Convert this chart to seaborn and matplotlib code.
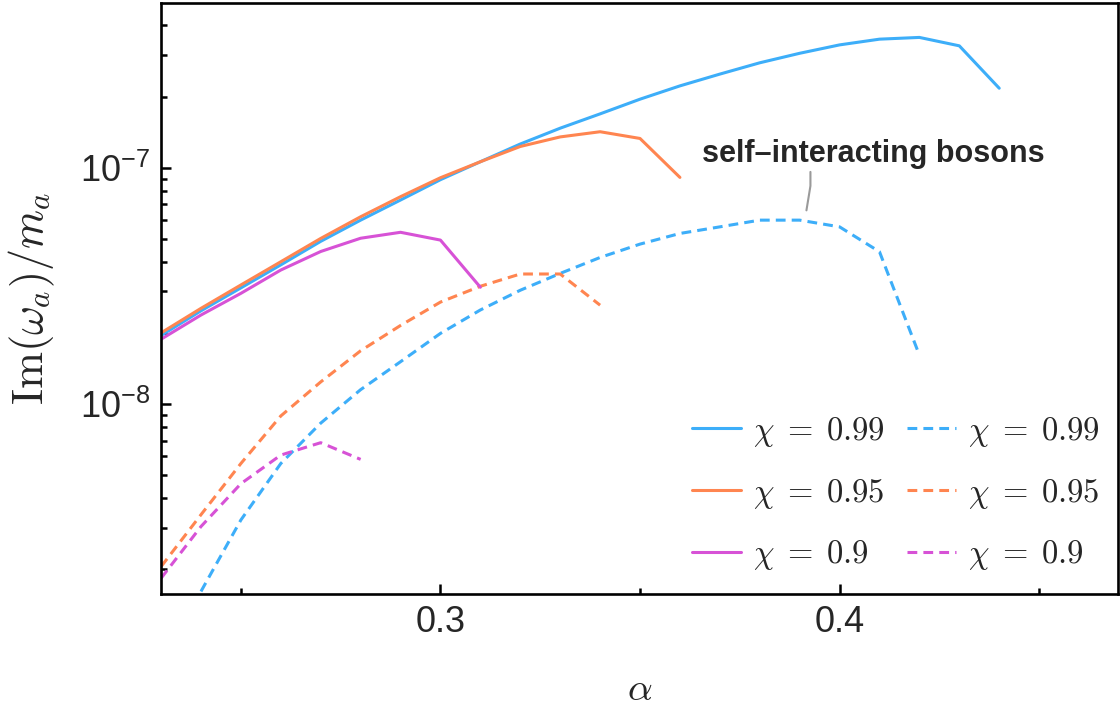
import numpy as np
import pandas as pd
import matplotlib
matplotlib.use("Agg")
import matplotlib.pyplot as plt
import matplotlib.ticker as mticker
from matplotlib.lines import Line2D
import seaborn as sns

# ---------------- data ----------------
alpha_s099 = [0.23, 0.24, 0.25, 0.26, 0.27, 0.28, 0.29, 0.30, 0.31, 0.32, 0.33,
              0.34, 0.35, 0.36, 0.37, 0.38, 0.39, 0.40, 0.41, 0.42, 0.43, 0.44]
im_s099 = [1.95e-8, 2.48e-8, 3.10e-8, 3.88e-8, 4.88e-8, 6.00e-8, 7.30e-8, 8.90e-8,
           1.06e-7, 1.26e-7, 1.47e-7, 1.69e-7, 1.95e-7, 2.22e-7, 2.49e-7, 2.78e-7,
           3.05e-7, 3.31e-7, 3.50e-7, 3.56e-7, 3.28e-7, 2.17e-7]

alpha_s095 = [0.23, 0.24, 0.25, 0.26, 0.27, 0.28, 0.29, 0.30, 0.31, 0.32, 0.33,
              0.34, 0.35, 0.36]
im_s095 = [2.00e-8, 2.54e-8, 3.19e-8, 4.00e-8, 5.02e-8, 6.20e-8, 7.54e-8, 9.07e-8,
           1.06e-7, 1.23e-7, 1.35e-7, 1.42e-7, 1.33e-7, 9.10e-8]

alpha_s090 = [0.23, 0.24, 0.25, 0.26, 0.27, 0.28, 0.29, 0.30, 0.31]
im_s090 = [1.88e-8, 2.38e-8, 2.94e-8, 3.69e-8, 4.42e-8, 5.03e-8, 5.33e-8, 4.94e-8,
           3.12e-8]

alpha_d099 = [0.24, 0.25, 0.26, 0.27, 0.28, 0.29, 0.30, 0.31, 0.32, 0.33, 0.34,
              0.35, 0.36, 0.37, 0.38, 0.39, 0.40, 0.41, 0.42]
im_d099 = [1.61e-9, 3.23e-9, 5.60e-9, 8.30e-9, 1.15e-8, 1.51e-8, 1.99e-8, 2.50e-8,
           3.03e-8, 3.57e-8, 4.17e-8, 4.75e-8, 5.27e-8, 5.62e-8, 6.00e-8, 6.00e-8,
           5.62e-8, 4.41e-8, 1.61e-8]

alpha_d095 = [0.23, 0.24, 0.25, 0.26, 0.27, 0.28, 0.29, 0.30, 0.31, 0.32, 0.33, 0.34]
im_d095 = [2.05e-9, 3.40e-9, 5.60e-9, 8.90e-9, 1.24e-8, 1.68e-8, 2.15e-8, 2.70e-8,
           3.15e-8, 3.55e-8, 3.55e-8, 2.62e-8]

alpha_d090 = [0.23, 0.24, 0.25, 0.26, 0.27, 0.28]
im_d090 = [1.83e-9, 3.03e-9, 4.60e-9, 6.08e-9, 6.86e-9, 5.83e-9]

labels = [r"$\chi\;=\;0.99$", r"$\chi\;=\;0.95$", r"$\chi\;=\;0.9$"]
colors = ["#3DAEF9", "#FF8550", "#D752D6"]

annot_text = "self\u2013interacting bosons"
annot_text_xy = (0.4085, 1.06e-7)
annot_line_start = (0.3927, 9.6e-8)
annot_line_end = (0.3917, 6.6e-8)

# ---------------- style ----------------
sns.set_style("white")
plt.rcParams["font.family"] = ["Liberation Sans", "DejaVu Sans"]
plt.rcParams["mathtext.fontset"] = "cm"

fig = plt.figure(figsize=(11.2, 7.08), dpi=100)
ax = fig.add_axes([0.1438, 0.161, 0.998 - 0.1438, 0.9958 - 0.161])

lw = 2.2
dash = (0, (3.2, 2.0))

solid = [(alpha_s099, im_s099), (alpha_s095, im_s095), (alpha_s090, im_s090)]
dashed = [(alpha_d099, im_d099), (alpha_d095, im_d095), (alpha_d090, im_d090)]

for (xs, ys), c in zip(dashed, colors):
    df = pd.DataFrame({"alpha": xs, "im": ys})
    sns.lineplot(data=df, x="alpha", y="im", color=c, lw=lw, ax=ax,
                 linestyle=dash, legend=False)
for (xs, ys), c in zip(solid, colors):
    df = pd.DataFrame({"alpha": xs, "im": ys})
    sns.lineplot(data=df, x="alpha", y="im", color=c, lw=lw, ax=ax, legend=False)

ax.set_yscale("log")
ax.set_xlim(0.23, 0.4697)
ax.set_ylim(1.57e-9, 4.98e-7)

ax.xaxis.set_major_locator(mticker.MultipleLocator(0.1))
ax.xaxis.set_minor_locator(mticker.MultipleLocator(0.05))
ax.xaxis.set_major_formatter(mticker.FormatStrFormatter("%.1f"))
ax.yaxis.set_major_locator(mticker.LogLocator(base=10))
ax.yaxis.set_minor_locator(mticker.LogLocator(base=10, subs=np.arange(2, 10)))
ax.yaxis.set_minor_formatter(mticker.NullFormatter())

ax.tick_params(which="both", direction="in", left=True, bottom=True,
               top=False, right=False, width=1.8, color="black")
ax.tick_params(which="major", length=7, labelsize=26, pad=8)
ax.tick_params(which="minor", length=4.5)
for sp in ax.spines.values():
    sp.set_linewidth(1.9)
    sp.set_color("black")

ax.set_xlabel(r"$\alpha$", fontsize=28, labelpad=23)
ax.set_ylabel(r"$\mathrm{Im}(\omega_a)/m_a$", fontsize=32, labelpad=16)

# legend: solid column, dashed column
handles = [Line2D([], [], color=c, lw=lw) for c in colors] + \
          [Line2D([], [], color=c, lw=lw, linestyle=dash) for c in colors]
ax.legend(handles, labels + labels, ncol=2, frameon=False, fontsize=23.5,
          loc="lower right", bbox_to_anchor=(1.0123, -0.013),
          handlelength=1.5, handletextpad=0.37, columnspacing=0.7,
          labelspacing=0.85)

ax.text(annot_text_xy[0], annot_text_xy[1], annot_text, fontsize=22,
        fontweight="bold", ha="center", va="baseline")
ax.annotate("", xy=annot_line_end, xytext=annot_line_start,
            arrowprops=dict(arrowstyle="-", color="#9a9a9a", lw=1.5,
                            shrinkA=0, shrinkB=0,
                            connectionstyle="arc,angleA=-90,armA=14,angleB=0,armB=0,rad=0"))

fig.savefig("out.png", dpi=100)
